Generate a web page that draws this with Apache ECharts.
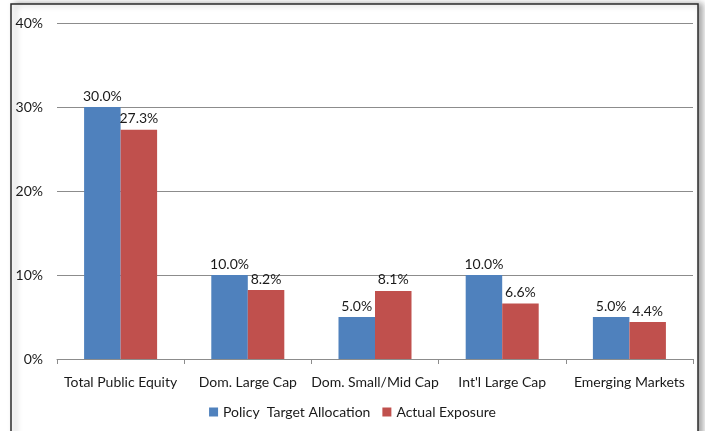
<!DOCTYPE html>
<html><head><meta charset="utf-8">
<script src="https://cdn.jsdelivr.net/npm/echarts@6/dist/echarts.min.js"></script>
<style>html,body{margin:0;padding:0;background:#fff}#c{width:705px;height:431px}</style>
</head><body><div id="c"></div>
<script>
const categories = ['Total Public Equity','Dom. Large Cap','Dom. Small/Mid Cap',"Int'l Large Cap",'Emerging Markets'];
const policyTarget = [30.0, 10.0, 5.0, 10.0, 5.0];
const actualExposure = [27.3, 8.2, 8.1, 6.6, 4.4];
const seriesNames = ['Policy  Target Allocation','Actual Exposure'];

const chart = echarts.init(document.getElementById('c'));
const font = 'Lato, "Open Sans", sans-serif';
const lbl = {show:true, position:'top', formatter: p => p.value.toFixed(1)+'%', color:'#1a1a1a', fontSize:14, fontFamily:font, distance:4};
chart.setOption({
  animation:false,
  graphic:[{type:'rect', shape:{x:11,y:4,width:687,height:440}, style:{fill:'#fff', stroke:'#2b2b2b', lineWidth:1.5, shadowBlur:6, shadowOffsetX:4, shadowColor:'rgba(0,0,0,0.35)'}, z:-10}],
  grid:{left:57, right:12, top:23, bottom:72, containLabel:false},
  legend:{bottom:7, left:'center', itemWidth:9, itemHeight:9, itemGap:12, icon:'rect', textStyle:{fontSize:14, fontFamily:font, color:'#1a1a1a'}, data:seriesNames},
  xAxis:{type:'category', data:categories, axisLine:{lineStyle:{color:'#8c8c8c'}}, axisTick:{show:true, length:5, lineStyle:{color:'#8c8c8c'}}, axisLabel:{fontSize:14, fontFamily:font, color:'#1a1a1a', margin:16, interval:0}},
  yAxis:{type:'value', min:0, max:40, interval:10, axisLabel:{formatter:'{value}%', fontSize:14, fontFamily:font, color:'#1a1a1a', margin:14}, splitLine:{lineStyle:{color:'#8c8c8c'}}, axisLine:{show:false}, axisTick:{show:false}},
  series:[
    {name:seriesNames[0], type:'bar', data:policyTarget, itemStyle:{color:'#4f81bd'}, barGap:'0%', barCategoryGap:'42.6%', label:lbl},
    {name:seriesNames[1], type:'bar', data:actualExposure, itemStyle:{color:'#c0504d'}, label:lbl}
  ]
});
</script></body></html>
